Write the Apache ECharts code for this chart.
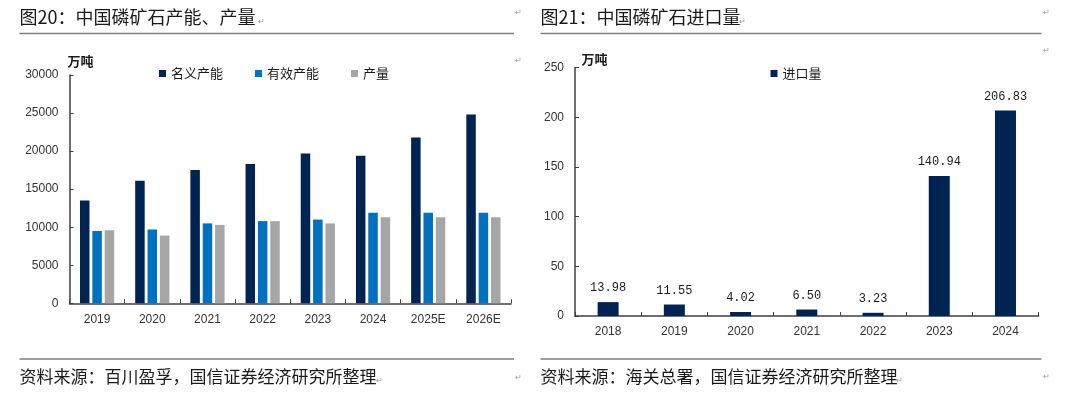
<!DOCTYPE html>
<html>
<head>
<meta charset="utf-8">
<script src="https://cdn.jsdelivr.net/npm/echarts@6/dist/echarts.min.js"></script>
<style>
  html, body { margin:0; padding:0; background:#fff; }
  #main { width:1080px; height:398px; }
</style>
</head>
<body>
<div id="main"></div>
<script>
  // 图20 产能、产量
  var years1 = ['2019','2020','2021','2022','2023','2024','2025E','2026E'];
  var nominalCap = [13500,16100,17500,18300,19700,19400,21800,24800];
  var effectiveCap = [9500,9700,10500,10800,11000,11900,11900,11900];
  var output = [9600,8900,10300,10800,10500,11300,11300,11300];

  // 图21 进口量
  var years2 = ['2018','2019','2020','2021','2022','2023','2024'];
  var imports = [13.98,11.55,4.02,6.50,3.23,140.94,206.83];

  var cjk = '"Noto Sans CJK SC", "Noto Sans", sans-serif';
  var num = '"Liberation Sans", Arial, sans-serif';
  var axisColor = '#404040';
  var labelColor = '#333';

  // 文字按中心 y 摆放
  function txt(x, y, s, size, opt) {
    opt = opt || {};
    return {
      type:'text', left:x, top:y - size * 0.5, silent:true,
      style:{ text:s, fontSize:size, fontFamily:opt.font || cjk, fontWeight:opt.bold ? 'bold' : 'normal',
        fill:opt.color || '#1a1a1a' }
    };
  }
  function hline(x1, x2, y) {
    return { type:'line', silent:true, shape:{x1:x1, y1:y, x2:x2, y2:y}, style:{stroke:'#7f7f7f', lineWidth:1.5} };
  }

  function yAxisOpt(gi, max, interval) {
    return {
      type:'value', gridIndex:gi, min:0, max:max, interval:interval,
      splitLine:{show:false},
      axisLine:{show:true, lineStyle:{color:axisColor, width:1.5}},
      axisTick:{show:true, inside:true, length:4, lineStyle:{color:axisColor}},
      axisLabel:{color:labelColor, fontSize:12, fontFamily:num, margin:11,
        formatter:function(v){ return String(v); }}
    };
  }
  function xAxisOpt(gi, data) {
    return {
      type:'category', gridIndex:gi, data:data,
      axisLine:{show:true, lineStyle:{color:axisColor, width:1.5}},
      axisTick:{show:true, inside:true, length:4, lineStyle:{color:axisColor}},
      axisLabel:{color:labelColor, fontSize:12, fontFamily:num, margin:10}
    };
  }

  var chart = echarts.init(document.getElementById('main'));
  var option = {
    animation:false,
    backgroundColor:'#fff',
    grid:[
      {left:69.5, right:1080-511, top:75, bottom:398-303.3},
      {left:575, right:1080-1038.6, top:67.5, bottom:398-316}
    ],
    xAxis:[xAxisOpt(0, years1), xAxisOpt(1, years2)],
    yAxis:[yAxisOpt(0, 30000, 5000), yAxisOpt(1, 250, 50)],
    legend:[
      {
        data:['名义产能','有效产能','产量'], left:154, top:62,
        icon:'rect', itemWidth:7, itemHeight:7, itemGap:32,
        textStyle:{fontSize:13, fontFamily:cjk, color:'#1a1a1a'}
      },
      {
        data:['进口量'], left:765.5, top:62,
        icon:'rect', itemWidth:7, itemHeight:7,
        textStyle:{fontSize:13, fontFamily:cjk, color:'#1a1a1a'}
      }
    ],
    series:[
      {name:'名义产能', type:'bar', xAxisIndex:0, yAxisIndex:0, data:nominalCap,
        barWidth:9.5, barGap:'30%', itemStyle:{color:'#002452'}},
      {name:'有效产能', type:'bar', xAxisIndex:0, yAxisIndex:0, data:effectiveCap,
        barWidth:9.5, barGap:'30%', itemStyle:{color:'#0070C0'}},
      {name:'产量', type:'bar', xAxisIndex:0, yAxisIndex:0, data:output,
        barWidth:9.5, barGap:'30%', itemStyle:{color:'#A6A6A6'}},
      {name:'进口量', type:'bar', xAxisIndex:1, yAxisIndex:1, data:imports,
        barWidth:21, itemStyle:{color:'#002452'},
        label:{show:true, position:'top', distance:8, color:'#1a1a1a', fontSize:12,
          fontFamily:'"Liberation Mono", "DejaVu Sans Mono", monospace',
          formatter:function(p){ return p.value.toFixed(2); }}}
    ],
    graphic:[
      txt(19.5, 17, '图20：中国磷矿石产能、产量', 18),
      hline(19.5, 514, 33.5),
      txt(67.5, 61, '万吨', 13, {bold:true}),
      hline(19.5, 514, 359),
      txt(19.5, 377, '资料来源：百川盈孚，国信证券经济研究所整理', 17),

      txt(540.5, 17, '图21：中国磷矿石进口量', 18),
      hline(540.5, 1041.5, 33.5),
      txt(581.5, 59.5, '万吨', 13, {bold:true}),
      hline(540.5, 1041.5, 359),
      txt(540.5, 377, '资料来源：海关总署，国信证券经济研究所整理', 17),

      // Word 段落标记
      txt(258, 21, '↵', 8, {color:'#999'}),
      txt(515, 12, '↵', 8, {color:'#999'}),
      txt(515, 60, '↵', 8, {color:'#999'}),
      txt(376, 380, '↵', 8, {color:'#999'}),
      txt(515, 377, '↵', 8, {color:'#999'}),
      txt(739, 21, '↵', 8, {color:'#999'}),
      txt(1043, 12, '↵', 8, {color:'#999'}),
      txt(1043, 50, '↵', 8, {color:'#999'}),
      txt(896, 380, '↵', 8, {color:'#999'}),
      txt(1043, 376, '↵', 8, {color:'#999'})
    ]
  };
  chart.setOption(option);
</script>
</body>
</html>
